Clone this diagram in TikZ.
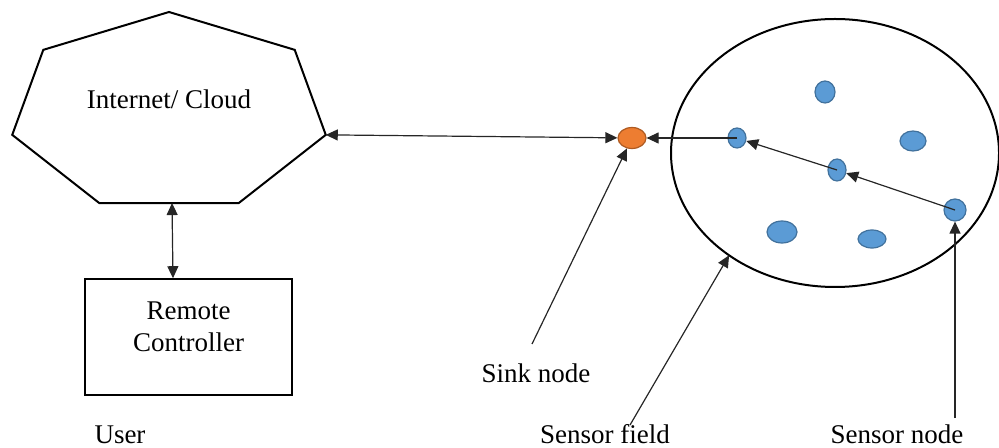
\documentclass[tikz,border=0pt]{standalone}
\usepackage{fontspec}
\setmainfont{Liberation Serif}
\usetikzlibrary{shapes.geometric,arrows.meta,positioning}
\definecolor{nodeblue}{HTML}{5B9BD5}
\definecolor{nodeedge}{HTML}{41719C}
\definecolor{sinkorange}{HTML}{ED7D31}
\definecolor{sinkedge}{HTML}{AE5A21}

\begin{document}
\begin{tikzpicture}[x=0.5pt,y=-0.5pt,>={Triangle[length=6pt,width=5.5pt]},
  font=\fontsize{13.5}{16}\selectfont]
\tikzset{block/.style = {draw, rectangle, line width=0.8pt, minimum width=103.5pt,
  minimum height=58pt, align=center, text depth=10pt},
  sensor/.style = {ellipse, draw=nodeedge, fill=nodeblue, line width=0.6pt, inner sep=0pt},
  link/.style = {draw=black!85, line width=0.6pt}}
\useasboundingbox (0,0) rectangle (999,448);

  % user side
  \node[regular polygon, regular polygon sides=7, draw, line width=1pt,
    minimum size=100.5pt, inner sep=0pt, outer sep=0pt,
    xscale=1.6, transform shape] (cloud) at (169,112.5) {};
  \node (cloudtext) at (169,99) {Internet/ Cloud};
  \node[block] (remote) at (188.5,337) {Remote\\Controller};
  \node (user) at (120,435) {User};

  % sensor field
  \node[ellipse, draw, line width=1pt, inner sep=0pt, outer sep=0pt,
    minimum width=164pt, minimum height=134pt] (field) at (835,153) {};
  \node[ellipse, draw=sinkedge, fill=sinkorange, line width=0.6pt, inner sep=0pt,
    minimum width=14pt, minimum height=10.5pt] (sink) at (632,138) {};
  \node[sensor, minimum width=9pt, minimum height=10pt] (n1) at (737,138) {};
  \node[sensor, minimum width=10pt, minimum height=11pt] (n2) at (825,92) {};
  \node[sensor, minimum width=13pt, minimum height=10pt] (n3) at (913,141) {};
  \node[sensor, minimum width=9pt, minimum height=11pt] (n4) at (837,170) {};
  \node[sensor, minimum width=11pt, minimum height=11pt] (n5) at (955,210) {};
  \node[sensor, minimum width=15pt, minimum height=11pt] (n6) at (782,232) {};
  \node[sensor, minimum width=14pt, minimum height=9pt] (n7) at (872,239) {};

  % labels
  \node (sinklabel) at (536,373) {Sink node};
  \node (fieldlabel) at (605,434) {Sensor field};
  \node (nodelabel) at (897,434) {Sensor node};
  \coordinate (sinktail) at (532,344);
  \coordinate (fieldtail) at (630,425);
  \coordinate (nodetail) at (955,418);

  % links
  \draw[link, <->] ([xshift=1.5pt]cloud.south) -- ([xshift=-7.75pt]remote.north);
  \draw[link, <->] (cloud.corner 6) -- (sink);
  \draw[link, ->] (n1.center) -- (sink);
  \draw[link, ->] (n4.center) -- (n1);
  \draw[link, ->] (n5.center) -- (n4);
  \draw[link, ->] (sinktail) -- (sink);
  \draw[link, ->] (fieldtail) -- (field.224);
  \draw[link, ->] (nodetail) -- (n5);

\end{tikzpicture}
\end{document}
